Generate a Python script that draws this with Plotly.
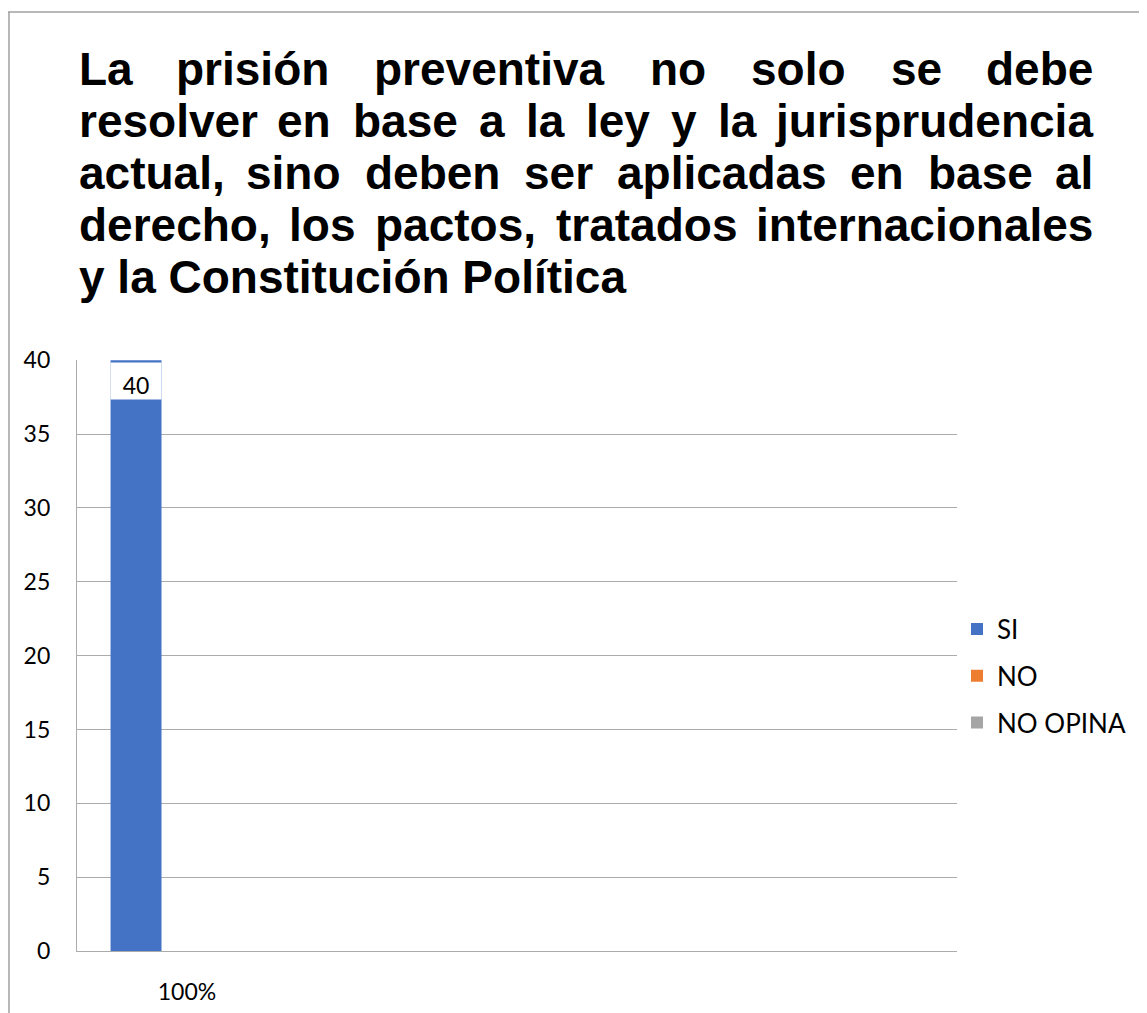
import plotly.graph_objects as go

# datos del gráfico
categorias = ["100%", " ", "  ", "   "]
series = ["SI", "NO", "NO OPINA"]
valores_si = [40, None, None, None]
valores_no = [0, None, None, None]
valores_no_opina = [0, None, None, None]
colores = ["#4472C4", "#ED7D31", "#A5A5A5"]
ticks_y = [0, 5, 10, 15, 20, 25, 30, 35, 40]

titulo = [
    ("La prisión preventiva no solo se debe", True),
    ("resolver en base a la ley y la jurisprudencia", True),
    ("actual, sino deben ser aplicadas en base al", True),
    ("derecho, los pactos, tratados internacionales", True),
    ("y la Constitución Política", False),
]

# geometría en px de la página (el body tiene 8px de margen)
OFF = 8
W, H = 1147 - OFF, 1013 - OFF
P_IZQ, P_DER, P_SUP, P_INF = 77, 957, 360, 951
PL, PR, PT, PB = P_IZQ - OFF, P_DER - OFF, P_SUP - OFF, P_INF - OFF
FUENTE = "Lato, 'Open Sans', sans-serif"
FUENTE_TIT = "'Liberation Sans', Arial, sans-serif"
T_SIZE = 46


def px_x(x):
    return (x - OFF - PL) / (PR - PL)


def px_y(y):
    return (PB - (y - OFF)) / (PB - PT)


# anchos (em, Liberation Sans Bold) para repartir el texto justificado
ANCHO = {
    "a": .556, "b": .611, "c": .556, "d": .611, "e": .556, "f": .333, "g": .611,
    "h": .611, "i": .278, "í": .278, "j": .278, "k": .556, "l": .278, "m": .889,
    "n": .611, "o": .611, "ó": .611, "p": .611, "q": .611, "r": .389, "s": .556,
    "t": .333, "u": .611, "v": .556, "w": .778, "x": .556, "y": .556, "z": .5,
    ",": .278, "L": .611, "C": .722, "P": .667,
}


def ancho(palabra):
    return sum(ANCHO.get(c, .6) for c in palabra) * T_SIZE


fig = go.Figure()
for nombre, vals, color in zip(series, [valores_si, valores_no, valores_no_opina], colores):
    fig.add_trace(go.Bar(
        name=nombre, x=categorias, y=vals, marker_color=color,
        marker_line_width=0, legendgroup=nombre,
    ))

anotaciones = []
x_ini, x_fin = 77, 1095
for i, (linea, justificar) in enumerate(titulo):
    yc = px_y(69 + 52 * i)
    palabras = linea.split()
    estilo = dict(xref="paper", yref="paper", yanchor="middle", showarrow=False,
                  font=dict(family=FUENTE_TIT, size=T_SIZE, color="#000000"))
    if not justificar:
        anotaciones.append(dict(text="<b>" + linea + "</b>", x=px_x(x_ini),
                                xanchor="left", y=yc, **estilo))
        continue
    anchos = [ancho(p) for p in palabras]
    hueco = (x_fin - x_ini - sum(anchos)) / (len(palabras) - 1)
    x = x_ini
    for j, (p, a) in enumerate(zip(palabras, anchos)):
        if j == 0:
            xa, pos = "left", x
        elif j == len(palabras) - 1:
            xa, pos = "right", x_fin
        else:
            xa, pos = "center", x + a / 2
        anotaciones.append(dict(text="<b>" + p + "</b>", x=px_x(pos),
                                xanchor=xa, y=yc, **estilo))
        x += a + hueco

# etiqueta de datos con fondo blanco sobre la barra SI
anotaciones.append(dict(
    text=str(valores_si[0]), x=categorias[0], y=valores_si[0], xshift=-51, yshift=-2,
    xanchor="center", yanchor="top", showarrow=False, width=50, height=36,
    valign="bottom", bgcolor="#FFFFFF", borderpad=0,
    font=dict(family=FUENTE, size=23, color="#000000"),
))

fig.update_layout(
    width=W, height=H,
    margin=dict(l=PL, r=W - PR, t=PT, b=H - PB, autoexpand=False),
    paper_bgcolor="#FFFFFF", plot_bgcolor="#FFFFFF",
    barmode="group", bargap=0.305, bargroupgap=0,
    font=dict(family=FUENTE, size=23, color="#000000"),
    annotations=anotaciones,
    legend=dict(
        x=px_x(957), y=px_y(676), xanchor="left", yanchor="middle",
        font=dict(size=26), tracegroupgap=10, bgcolor="rgba(0,0,0,0)",
    ),
    shapes=[
        dict(type="line", xref="paper", yref="paper", x0=px_x(OFF), x1=px_x(1160),
             y0=px_y(12), y1=px_y(12), line=dict(color="#A0A0A0", width=1.5)),
        dict(type="line", xref="paper", yref="paper", x0=px_x(OFF + 1), x1=px_x(OFF + 1),
             y0=px_y(12), y1=px_y(1020), line=dict(color="#A0A0A0", width=1.5)),
    ],
)
fig.update_xaxes(
    type="category", categoryorder="array", categoryarray=categorias,
    showgrid=False, showline=True, linecolor="#ABABAB", linewidth=1.3,
    ticks="", ticklabelstandoff=20, tickfont=dict(size=23), fixedrange=True,
    automargin=False,
)
fig.update_yaxes(
    range=[0, 40.02], tickvals=ticks_y, showgrid=True, gridcolor="#ABABAB", gridwidth=1.3,
    showline=True, linecolor="#ABABAB", linewidth=1.3, zeroline=False,
    ticks="", ticklabelstandoff=21, tickfont=dict(size=23), fixedrange=True,
    automargin=False,
)

fig.write_html("out.html")
